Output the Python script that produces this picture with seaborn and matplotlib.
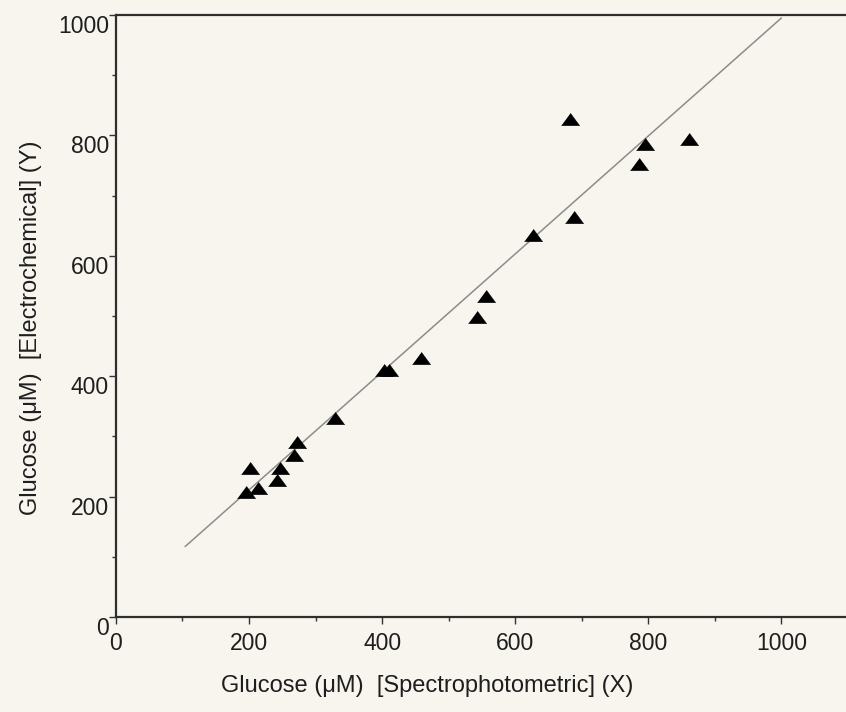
import matplotlib
matplotlib.use("Agg")

import pandas as pd
import seaborn as sns
import matplotlib.pyplot as plt
import matplotlib.ticker as ticker

# data
spectro_x = [195, 201, 214, 242, 246, 267, 272, 329, 403, 410,
             458, 543, 556, 626, 682, 689, 786, 795, 861]
electro_y = [207, 248, 214, 228, 247, 269, 290, 330, 410, 410,
             431, 498, 533, 635, 828, 664, 753, 786, 794]

# fitted line end points
fit_x = [104, 1000]
fit_y = [117, 995]

x_ticks = [0, 200, 400, 600, 800, 1000]
y_ticks = [0, 200, 400, 600, 800, 1000]

sns.set_style("ticks")
plt.rcParams['font.family'] = ['Liberation Sans Narrow', 'Liberation Sans', 'DejaVu Sans']

paper = '#f7f5ee'
ink = '#1e1e1e'

df = pd.DataFrame({'x': spectro_x, 'y': electro_y})

fig = plt.figure(figsize=(8.46, 7.12), dpi=100, facecolor=paper)
# right side of the frame runs off the page
ax = fig.add_axes([0.137, 0.1334, 0.944, 0.8456])
ax.set_facecolor(paper)

sns.lineplot(x=fit_x, y=fit_y, ax=ax, color='#8c8c8c', linewidth=1.1, estimator=None)

tri = [(-1, -0.68), (1, -0.68), (0, 0.68)]
sns.scatterplot(data=df, x='x', y='y', ax=ax, marker=tri, s=170,
                color='black', edgecolor='black', linewidth=0.4, zorder=3)

ax.set_xlim(0, 1200)
ax.set_ylim(0, 1000)

ax.xaxis.set_major_locator(ticker.FixedLocator(x_ticks))
ax.yaxis.set_major_locator(ticker.FixedLocator(y_ticks))
ax.xaxis.set_minor_locator(ticker.MultipleLocator(100))
ax.yaxis.set_minor_locator(ticker.MultipleLocator(100))

for side in ['left', 'bottom', 'top']:
    ax.spines[side].set_color('#2e2e2e')
    ax.spines[side].set_linewidth(1.6)
ax.spines['right'].set_visible(False)

ax.tick_params(axis='both', which='major', direction='out', length=5, width=1.0,
               color='#333333', labelsize=16.5, labelcolor=ink)
ax.tick_params(axis='both', which='minor', direction='out', length=3, width=1.0,
               color='#333333')
ax.tick_params(axis='y', which='major', pad=0)
ax.tick_params(axis='x', which='major', pad=6)

for lab in ax.get_yticklabels():
    lab.set_verticalalignment('top')

ax.set_xlabel('Glucose (μM)  [Spectrophotometric] (X)', fontsize=17, color=ink)
ax.set_ylabel('Glucose (μM)  [Electrochemical] (Y)', fontsize=17, color=ink)
ax.xaxis.set_label_coords(0.39, -0.097)
ax.yaxis.set_label_coords(-0.092, 0.48)

plt.savefig('out.png', dpi=100, facecolor=paper)
plt.close()
